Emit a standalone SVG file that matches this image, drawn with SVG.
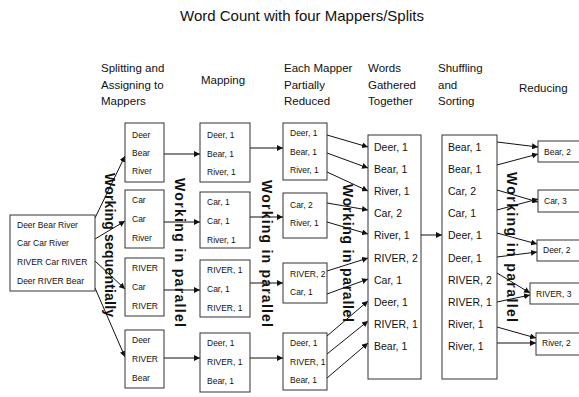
<svg xmlns="http://www.w3.org/2000/svg" width="579" height="397" viewBox="0 0 579 397">
<defs>
<marker id="ah" markerUnits="userSpaceOnUse" markerWidth="7" markerHeight="6" refX="6" refY="3" orient="auto">
<path d="M0,0 L6,3 L0,6 z" fill="#111"/>
</marker>
<style>
.box{fill:#fff;stroke:#333;stroke-width:1}
.t{font-family:"Liberation Sans",Arial,sans-serif;font-size:8.5px;fill:#111}
.tb{font-family:"Liberation Sans",Arial,sans-serif;font-size:10.5px;fill:#111}
.h{font-family:"Liberation Sans",Arial,sans-serif;font-size:11.5px;fill:#111}
.title{font-family:"Liberation Sans",Arial,sans-serif;font-size:15px;fill:#111}
.w{font-family:"Liberation Sans",Arial,sans-serif;font-size:14px;font-weight:bold;fill:#111;dominant-baseline:central}
.c line{stroke:#111;stroke-width:1;marker-end:url(#ah)}
</style>
</defs>
<rect width="579" height="397" fill="#fff"/>
<text class="title" x="180" y="20.5">Word Count with four Mappers/Splits</text>
<g id="headers">
<text class="h" x="101" y="72">Splitting and</text>
<text class="h" x="101" y="89">Assigning to</text>
<text class="h" x="101" y="105">Mappers</text>
<text class="h" x="201" y="84">Mapping</text>
<text class="h" x="284" y="72">Each Mapper</text>
<text class="h" x="284" y="89">Partially</text>
<text class="h" x="284" y="105">Reduced</text>
<text class="h" x="368" y="72">Words</text>
<text class="h" x="368" y="89">Gathered</text>
<text class="h" x="368" y="105">Together</text>
<text class="h" x="438" y="72">Shuffling</text>
<text class="h" x="438" y="89">and</text>
<text class="h" x="438" y="105">Sorting</text>
<text class="h" x="519" y="92">Reducing</text>
</g>
<g class="c" id="connectors">
<line x1="95" y1="218" x2="125" y2="156"/>
<line x1="95" y1="239" x2="125" y2="221"/>
<line x1="95" y1="261" x2="125" y2="289"/>
<line x1="95" y1="288" x2="125" y2="357"/>
<line x1="164" y1="154" x2="200" y2="154"/>
<line x1="164" y1="222" x2="200" y2="222"/>
<line x1="164" y1="290" x2="200" y2="290"/>
<line x1="164" y1="358" x2="200" y2="358"/>
<line x1="250" y1="148" x2="283" y2="148"/>
<line x1="250" y1="217" x2="283" y2="217"/>
<line x1="250" y1="283" x2="283" y2="283"/>
<line x1="250" y1="358" x2="283" y2="358"/>
<line x1="327" y1="135" x2="368" y2="147"/>
<line x1="327" y1="153" x2="368" y2="168"/>
<line x1="327" y1="172" x2="368" y2="191"/>
<line x1="327" y1="203" x2="368" y2="210"/>
<line x1="327" y1="222" x2="368" y2="234"/>
<line x1="327" y1="271" x2="368" y2="258"/>
<line x1="327" y1="294" x2="368" y2="279"/>
<line x1="327" y1="336" x2="368" y2="301"/>
<line x1="327" y1="354" x2="368" y2="321"/>
<line x1="327" y1="378" x2="368" y2="343"/>
<line x1="421" y1="235" x2="442" y2="235"/>
<line x1="497" y1="142" x2="538" y2="147"/>
<line x1="497" y1="165" x2="538" y2="154"/>
<line x1="497" y1="190" x2="538" y2="202"/>
<line x1="497" y1="210" x2="538" y2="199"/>
<line x1="497" y1="233" x2="537" y2="244"/>
<line x1="497" y1="257" x2="537" y2="252"/>
<line x1="497" y1="273" x2="530" y2="293"/>
<line x1="497" y1="302" x2="530" y2="295"/>
<line x1="497" y1="327" x2="536" y2="338"/>
<line x1="497" y1="343" x2="536" y2="343"/>
</g>
<g id="input">
<rect class="box" x="10" y="215" width="85" height="76"/>
<text class="t" x="17" y="228">Deer Bear River</text>
<text class="t" x="17" y="246">Car Car River</text>
<text class="t" x="17" y="265">RIVER Car RIVER</text>
<text class="t" x="17" y="284">Deer RIVER Bear</text>
</g>
<g id="split1"><rect class="box" x="125" y="123" width="39" height="59"/>
<text class="t" x="132" y="138">Deer</text><text class="t" x="132" y="156">Bear</text><text class="t" x="132" y="174">River</text></g>
<g id="split2"><rect class="box" x="125" y="190" width="39" height="58"/>
<text class="t" x="132" y="203">Car</text><text class="t" x="132" y="222">Car</text><text class="t" x="132" y="241">River</text></g>
<g id="split3"><rect class="box" x="125" y="258" width="39" height="58"/>
<text class="t" x="132" y="271">RIVER</text><text class="t" x="132" y="290">Car</text><text class="t" x="132" y="309">RIVER</text></g>
<g id="split4"><rect class="box" x="125" y="330" width="39" height="58"/>
<text class="t" x="132" y="343">Deer</text><text class="t" x="132" y="362">RIVER</text><text class="t" x="132" y="381">Bear</text></g>
<g id="map1"><rect class="box" x="200" y="123" width="50" height="59"/>
<text class="t" x="207" y="138">Deer, 1</text><text class="t" x="207" y="156.5">Bear, 1</text><text class="t" x="207" y="175">River, 1</text></g>
<g id="map2"><rect class="box" x="200" y="192" width="50" height="56"/>
<text class="t" x="207" y="205">Car, 1</text><text class="t" x="207" y="224">Car, 1</text><text class="t" x="207" y="243">River, 1</text></g>
<g id="map3"><rect class="box" x="200" y="260" width="50" height="57"/>
<text class="t" x="207" y="273">RIVER, 1</text><text class="t" x="207" y="292">Car, 1</text><text class="t" x="207" y="311">RIVER, 1</text></g>
<g id="map4"><rect class="box" x="200" y="333" width="50" height="59"/>
<text class="t" x="207" y="346">Deer, 1</text><text class="t" x="207" y="365">RIVER, 1</text><text class="t" x="207" y="384">Bear, 1</text></g>
<g id="part1"><rect class="box" x="283" y="123" width="44" height="57"/>
<text class="t" x="290" y="136">Deer, 1</text><text class="t" x="290" y="155">Bear, 1</text><text class="t" x="290" y="173">River, 1</text></g>
<g id="part2"><rect class="box" x="283" y="193" width="44" height="45"/>
<text class="t" x="290" y="208">Car, 2</text><text class="t" x="290" y="226">River, 1</text></g>
<g id="part3"><rect class="box" x="283" y="263" width="44" height="40"/>
<text class="t" x="290" y="277">RIVER, 2</text><text class="t" x="290" y="295">Car, 1</text></g>
<g id="part4"><rect class="box" x="283" y="333" width="44" height="57"/>
<text class="t" x="290" y="346">Deer, 1</text><text class="t" x="290" y="365">RIVER, 1</text><text class="t" x="290" y="383">Bear, 1</text></g>
<g id="gathered"><rect class="box" x="368" y="135" width="53" height="244"/>
<text class="tb" x="374" y="151">Deer, 1</text>
<text class="tb" x="374" y="173">Bear, 1</text>
<text class="tb" x="374" y="195">River, 1</text>
<text class="tb" x="374" y="217">Car, 2</text>
<text class="tb" x="374" y="239">River, 1</text>
<text class="tb" x="374" y="261.5">RIVER, 2</text>
<text class="tb" x="374" y="283.5">Car, 1</text>
<text class="tb" x="374" y="305.5">Deer, 1</text>
<text class="tb" x="374" y="327.5">RIVER, 1</text>
<text class="tb" x="374" y="350">Bear, 1</text></g>
<g id="sorted"><rect class="box" x="442" y="135" width="55" height="244"/>
<text class="tb" x="448" y="151">Bear, 1</text>
<text class="tb" x="448" y="173">Bear, 1</text>
<text class="tb" x="448" y="195">Car, 2</text>
<text class="tb" x="448" y="217">Car, 1</text>
<text class="tb" x="448" y="239">Deer, 1</text>
<text class="tb" x="448" y="261.5">Deer, 1</text>
<text class="tb" x="448" y="283.5">RIVER, 2</text>
<text class="tb" x="448" y="305.5">RIVER, 1</text>
<text class="tb" x="448" y="327.5">River, 1</text>
<text class="tb" x="448" y="350">River, 1</text></g>
<g id="red1"><rect class="box" x="538" y="141" width="50" height="21"/><text class="t" x="544" y="155">Bear, 2</text></g>
<g id="red2"><rect class="box" x="538" y="190" width="50" height="22"/><text class="t" x="544" y="204">Car, 3</text></g>
<g id="red3"><rect class="box" x="537" y="240" width="50" height="21"/><text class="t" x="543" y="253">Deer, 2</text></g>
<g id="red4"><rect class="box" x="530" y="283" width="55" height="21"/><text class="t" x="536" y="297">RIVER, 3</text></g>
<g id="red5"><rect class="box" x="536" y="333" width="50" height="22"/><text class="t" x="542" y="346">River, 2</text></g>
<g id="labels">
<text class="w" transform="translate(110,173) rotate(90)" textLength="144" lengthAdjust="spacing">Working sequentially</text>
<text class="w" transform="translate(180,178) rotate(90)" textLength="149" lengthAdjust="spacing">Working in parallel</text>
<text class="w" transform="translate(267,180) rotate(90)" textLength="147" lengthAdjust="spacing">Working in parallel</text>
<text class="w" transform="translate(348,184) rotate(90)" textLength="138" lengthAdjust="spacing">Working in parallel</text>
<text class="w" transform="translate(512,172) rotate(90)" textLength="150" lengthAdjust="spacing">Working in parallel</text>
</g>
</svg>
